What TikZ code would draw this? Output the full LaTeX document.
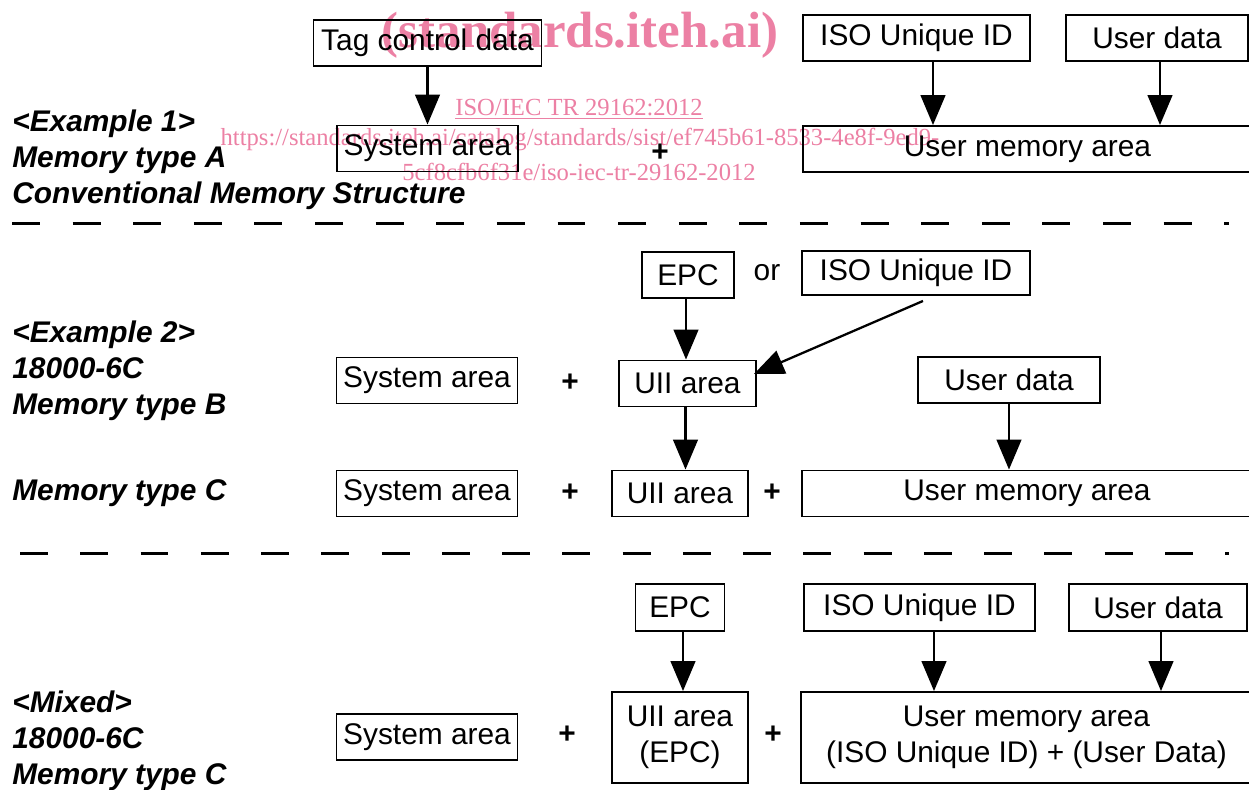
\documentclass[tikz,border=0pt]{standalone}
\usepackage{fontspec}
\setmainfont{Liberation Sans}
\newfontfamily\wmfont{Liberation Serif}
\usepackage{xcolor}
\usetikzlibrary{arrows.meta,positioning,calc}
\definecolor{wmpink}{RGB}{236,128,164}

\begin{document}
\begin{tikzpicture}[x=0.02cm, y=-0.02cm,
    font=\fontsize{17}{20.5}\selectfont,
    box/.style={draw, line width=1.1pt, inner sep=0pt, minimum height=0.92cm},
    arr/.style={-{Triangle[length=17pt,width=14pt]}, line width=1.3pt},
    sepline/.style={line width=1.7pt, dash pattern=on 15.9pt off 18.6pt},
    lbl/.style={anchor=west, align=left, inner xsep=0pt, font=\fontsize{17}{20.5}\selectfont\bfseries\itshape},
    plus/.style={font=\fontsize{17}{20.5}\selectfont\bfseries}]
    \useasboundingbox (0,0) rectangle (1249,789);

    % Watermark
    \node[text=wmpink, font=\wmfont\bfseries\fontsize{29}{30}\selectfont] (wmsite) at (580,35) {(standards.iteh.ai)};
    \node[text=wmpink, font=\wmfont\fontsize{14}{16}\selectfont] (wmtitle) at (579,109) {\underline{ISO/IEC TR 29162:2012}};
    \node[text=wmpink, font=\wmfont\fontsize{14}{16}\selectfont] (wmurl) at (580,139) {https://standards.iteh.ai/catalog/standards/sist/ef745b61-8533-4e8f-9ed9-};
    \node[text=wmpink, font=\wmfont\fontsize{14}{16}\selectfont] (wmurlb) at (579,172) {5cf8cfb6f31e/iso-iec-tr-29162-2012};

    % Example 1
    \node[lbl] (lblA) at (12,160) {<Example 1>\\Memory type A\\Conventional Memory Structure};
    \node[box, minimum width=4.56cm] (tagctl) at (427.5,43) {Tag control data};
    \node[box, minimum width=3.62cm] (sysA) at (427.5,148.5) {System area};
    \node[plus] (plusA) at (660,153) {+};
    \node[box, minimum width=4.54cm] (isoA) at (916.5,38) {ISO Unique ID};
    \node[box, minimum width=3.64cm] (udataA) at (1157,38) {User data};
    \node[box, minimum width=8.98cm] (memA) at (1027.5,149) {User memory area};
    \draw[arr] (tagctl.south) -- (sysA.north);
    \draw[arr] ([xshift=0.33cm]isoA.south) -- ([xshift=0.33cm]isoA.south |- memA.north);
    \draw[arr] ([xshift=0.06cm]udataA.south) -- ([xshift=0.06cm]udataA.south |- memA.north);

    \draw[sepline] (12,223) -- (1229,223);

    % Example 2
    \node[lbl] (lblB) at (12,371) {<Example 2>\\18000-6C\\Memory type B};
    \node[box, minimum width=1.84cm] (epcB) at (688,275) {EPC};
    \node (orB) at (767,273) {or};
    \node[box, minimum width=4.56cm, minimum height=0.88cm] (isoB) at (916,273) {ISO Unique ID};
    \node[box, minimum width=3.62cm] (sysB) at (427,380.5) {System area};
    \node[plus] (plusB) at (570,383) {+};
    \node[box, minimum width=2.74cm] (uiiB) at (687.5,383.5) {UII area};
    \node[box, minimum width=3.64cm] (udataB) at (1009,380) {User data};
    \draw[arr] ([xshift=-0.04cm]epcB.south) -- ([xshift=-0.04cm]epcB.south |- uiiB.north);
    \draw[arr] ([xshift=0.14cm,yshift=-0.1cm]isoB.south) -- ([xshift=-0.06cm,yshift=0.19cm]uiiB.east);

    % Memory type C
    \node[lbl] (lblC) at (12,493) {Memory type C};
    \node[box, minimum width=3.62cm] (sysC) at (427,493.5) {System area};
    \node[plus] (plusC) at (570,493) {+};
    \node[box, minimum width=2.72cm] (uiiC) at (680,493.5) {UII area};
    \node[plus] (plusCb) at (772,493) {+};
    \node[box, minimum width=9cm] (memC) at (1027,493.5) {User memory area};
    \draw[arr] ([xshift=-0.04cm]uiiB.south) -- ([xshift=-0.04cm]uiiB.south |- uiiC.north);
    \draw[arr] (udataB.south) -- (udataB.south |- memC.north);

    \draw[sepline, dash pattern=on 15.9pt off 18.4pt] (20,553) -- (1229,553);

    % Mixed
    \node[lbl] (lblM) at (12,741) {<Mixed>\\18000-6C\\Memory type C};
    \node[box, minimum width=1.78cm, minimum height=0.94cm] (epcM) at (680,607.5) {EPC};
    \node[box, minimum width=4.62cm, minimum height=0.94cm] (isoM) at (919.5,607.5) {ISO Unique ID};
    \node[box, minimum width=3.56cm, minimum height=0.94cm] (udataM) at (1158,607.5) {User data};
    \node[box, minimum width=3.62cm] (sysM) at (427,737) {System area};
    \node[plus] (plusM) at (567,735) {+};
    \node[box, minimum width=2.72cm, minimum height=1.82cm, align=center] (uiiM) at (680,737.5) {UII area\\(EPC)};
    \node[plus] (plusMb) at (773,735) {+};
    \node[box, minimum width=9.02cm, minimum height=1.82cm, align=center] (memM) at (1026.5,737.5) {User memory area\\(ISO Unique ID) + (User Data)};
    \draw[arr] ([xshift=0.06cm]epcM.south) -- ([xshift=0.06cm]epcM.south |- uiiM.north);
    \draw[arr] ([xshift=0.29cm]isoM.south) -- ([xshift=0.29cm]isoM.south |- memM.north);
    \draw[arr] ([xshift=0.06cm]udataM.south) -- ([xshift=0.06cm]udataM.south |- memM.north);
\end{tikzpicture}
\end{document}
